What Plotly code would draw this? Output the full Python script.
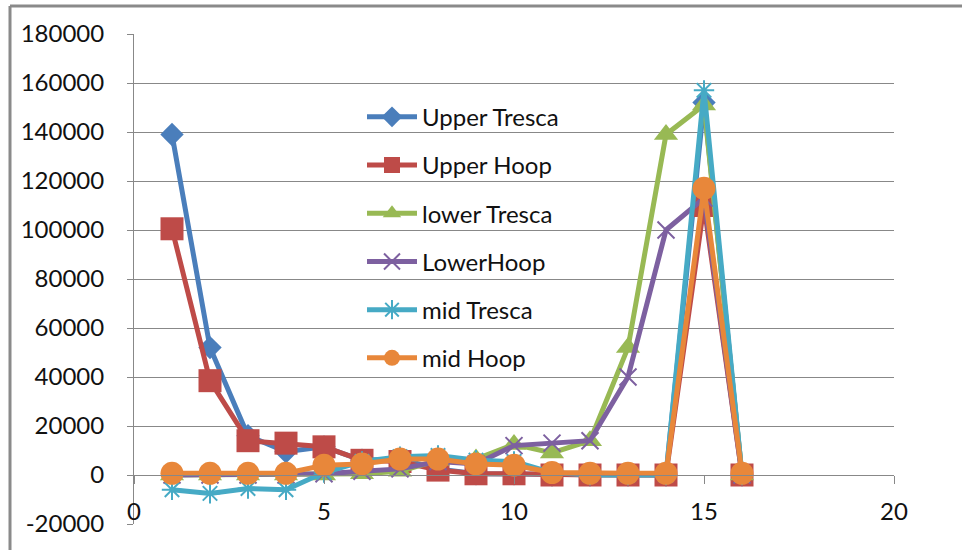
import plotly.graph_objects as go

# Node positions along the shell
positions = list(range(1, 17))

upper_tresca = [139000, 52000, 16000, 9500, 11500, 6000, 6500, 2500, 500, 500, 0, 0, 0, 0, 152000, 0]
upper_hoop = [100500, 38500, 14000, 13000, 11500, 6000, 5500, 2000, 500, 500, 0, 0, 0, 0, 110000, 0]
lower_tresca = [0, 0, 0, 0, 0, 500, 1500, 6000, 6500, 12500, 9000, 14000, 52000, 139000, 151000, 0]
lower_hoop = [0, 0, 0, 0, 500, 1500, 2500, 5500, 4500, 12000, 13000, 14000, 40000, 100000, 113000, 0]
mid_tresca = [-6000, -7500, -5500, -6000, 1000, 5500, 7500, 8000, 6000, 5500, 1000, 0, 0, 0, 157000, 0]
mid_hoop = [700, 700, 700, 700, 4000, 4500, 6500, 6500, 4500, 4000, 1000, 700, 700, 700, 117000, 700]

x_ticks = [0, 5, 10, 15, 20]
y_ticks = list(range(-20000, 180001, 20000))
y_labels = [str(v) for v in y_ticks]

series = [
    ("Upper Tresca", upper_tresca, "#4A7EBB", "diamond", 18, 0),
    ("Upper Hoop", upper_hoop, "#BE4B48", "square", 23, 0),
    ("lower Tresca", lower_tresca, "#98B954", "triangle-up", 21, 0),
    ("LowerHoop", lower_hoop, "#7D60A0", "x-thin-open", 17, 2),
    ("mid Tresca", mid_tresca, "#46AAC5", "asterisk-open", 17, 2),
    ("mid Hoop", mid_hoop, "#E8873A", "circle", 23, 0),
]

FONT = "Lato, 'Open Sans', sans-serif"
GRID = "#888888"

fig = go.Figure()
for i, (name, vals, color, sym, size, lw) in enumerate(series):
    fig.add_trace(go.Scatter(
        x=positions, y=vals, name=name, mode="lines+markers",
        legendgroup=f"g{i}",
        line=dict(color=color, width=5),
        marker=dict(symbol=sym, size=size, color=color,
                    line=dict(color=color, width=lw)),
    ))

fig.update_layout(
    width=962, height=550,
    margin=dict(l=134, r=68, t=34, b=26),
    paper_bgcolor="white", plot_bgcolor="white",
    font=dict(family=FONT, size=24, color="#111111"),
    showlegend=True,
    legend=dict(
        x=0.30, y=0.876, xanchor="left", yanchor="top",
        bgcolor="rgba(0,0,0,0)", borderwidth=0,
        font=dict(family=FONT, size=24, color="#111111"),
        tracegroupgap=14, itemwidth=50,
    ),
    xaxis=dict(
        range=[0, 20], tickvals=x_ticks, showgrid=False, zeroline=False,
        showline=True, linecolor=GRID, linewidth=1,
        ticks="outside", ticklen=8, tickcolor=GRID,
        anchor="free", position=0.1, ticklabelstandoff=7,
    ),
    yaxis=dict(
        range=[-20000, 180000], tickvals=y_ticks, ticktext=y_labels,
        showgrid=True, gridcolor=GRID, gridwidth=1, zeroline=False,
        showline=True, linecolor=GRID, linewidth=1,
        ticks="outside", ticklen=6, tickcolor=GRID,
        ticklabelstandoff=18,
    ),
    shapes=[
        dict(type="line", xref="paper", yref="paper",
             x0=(10 - 134) / 760, x1=(10 - 134) / 760,
             y0=(524 - 550) / 490, y1=(524 - 6) / 490,
             line=dict(color="#8a8a8a", width=3)),
        dict(type="line", xref="paper", yref="paper",
             x0=(10 - 134) / 760, x1=(962 - 134) / 760,
             y0=(524 - 6) / 490, y1=(524 - 6) / 490,
             line=dict(color="#8a8a8a", width=3)),
    ],
)

fig.write_html("out.html")
